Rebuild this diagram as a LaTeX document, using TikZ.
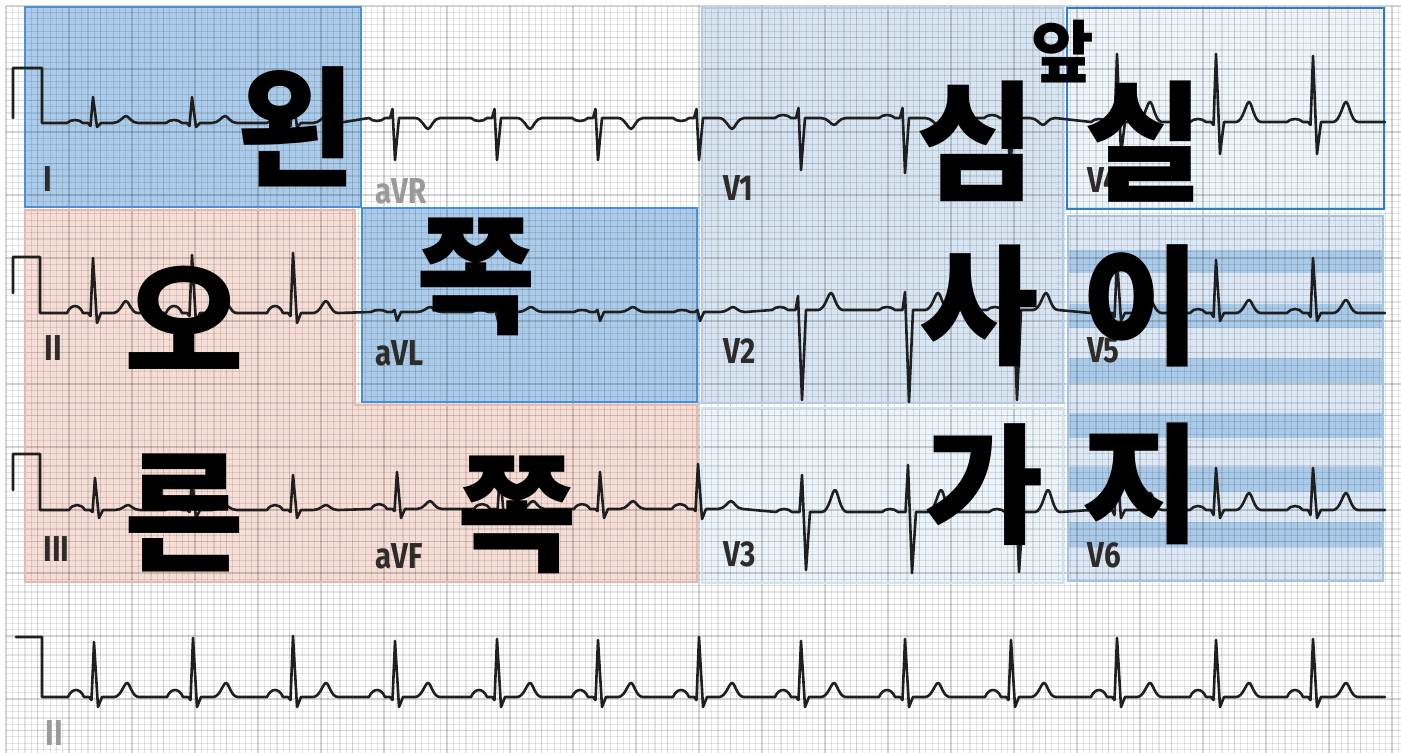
\documentclass[tikz,border=0pt]{standalone}
\usepackage{fontspec}
\newfontfamily\krfont{Noto Sans CJK KR}
\newfontfamily\labfont[FakeStretch=0.82]{Fira Sans}
\definecolor{blueA}{HTML}{ABCBEA}
\definecolor{blueAb}{HTML}{4A90D4}
\definecolor{pinkA}{HTML}{F6DDD5}
\definecolor{pinkAb}{HTML}{EBB6AB}
\definecolor{blueB}{HTML}{D7E4F2}
\definecolor{blueBb}{HTML}{B3CBE8}
\definecolor{blueC}{HTML}{EBF4FB}
\definecolor{blueCb}{HTML}{CFE2F0}
\definecolor{blueD}{HTML}{EDF4FB}
\definecolor{blueDb}{HTML}{2E7DD0}
\definecolor{blueE}{HTML}{DCE8F5}
\definecolor{blueEs}{HTML}{AACAE9}
\definecolor{blueEb}{HTML}{A3C3E5}
\definecolor{labc}{HTML}{2E2C2A}
\definecolor{labgray}{HTML}{9A9A9A}
\newcommand\ecgbeat[7]{%
 -- ({#1-26},{#2}) .. controls ({#1-22},{#2-1.33*(#3)}) and ({#1-14},{#2-1.33*(#3)}) .. ({#1-10},{#2})
 -- ({#1-5},{#2}) -- ({#1-2.5},{#2+(#4)}) -- ({#1},{#2-(#5)}) -- ({#1+4},{#2+(#6)}) -- ({#1+8},{#2})
 -- ({#1+20},{#2}) .. controls ({#1+27},{#2}) and ({#1+30},{#2-(#7)}) .. ({#1+33},{#2-(#7)})
 .. controls ({#1+36},{#2-(#7)}) and ({#1+38},{#2}) .. ({#1+45},{#2})
}
\tikzset{
 ecg/.style={line width=1.3pt, draw=black!88, line join=round, line cap=round},
 gridminor/.style={line width=0.6pt, draw=black, draw opacity=0.1},
 gridmajor/.style={line width=0.7pt, draw=black, draw opacity=0.07},
 lead/.style={font=\labfont\bfseries\fontsize{18}{18}\selectfont, text=labc, anchor=west, inner sep=0pt},
 big/.style={font=\krfont\bfseries\fontsize{65}{65}\selectfont, inner sep=0pt, anchor=center},
 small/.style={font=\krfont\bfseries\fontsize{34}{34}\selectfont, inner sep=0pt, anchor=center},
}
\begin{document}
\begin{tikzpicture}[x=0.5pt,y=-0.5pt]
\useasboundingbox (0,0) rectangle (1401,753);
\fill[white] (0,0) rectangle (1401,753);
% region fills
\fill[blueA] (25,7) rectangle (361,207);
\fill[pinkA] (25,210) -- (355,210) -- (355,405) -- (697,405) -- (697,582) -- (25,582) -- cycle;
\fill[blueA] (362,208) rectangle (697,402);
\fill[blueB] (702,8) rectangle (1063,403);
\fill[blueC] (702,408) rectangle (1063,583);
\fill[blueD] (1067,8) rectangle (1384,209);
\fill[blueE] (1068,216) rectangle (1383,581);
\foreach \a/\b in {250/273,304/328,358/383,413/438,467/492,522/547}
  {\fill[blueEs] (1068,\a) rectangle (1383,\b);}
% grid
\foreach \i in {0,...,221} {\draw[gridminor] ({6+6.3*\i},6) -- ({6+6.3*\i},753);}
\foreach \j in {0,...,118} {\draw[gridminor] (6,{6+6.3*\j}) -- (1401,{6+6.3*\j});}
\foreach \i in {0,...,44} {\draw[gridmajor] ({6+31.5*\i},6) -- ({6+31.5*\i},753);}
\foreach \j in {0,...,23} {\draw[gridmajor] (6,{6+31.5*\j}) -- (1401,{6+31.5*\j});}
% region borders
\draw[blueAb, line width=1pt] (25,7) rectangle (361,207);
\draw[pinkAb, line width=0.8pt] (25,210) -- (355,210) -- (355,405) -- (697,405) -- (697,582) -- (25,582) -- cycle;
\draw[blueAb, line width=1pt] (362,208) rectangle (697,402);
\draw[blueBb, line width=0.8pt] (702,8) rectangle (1063,403);
\draw[blueCb, line width=0.8pt] (702,408) rectangle (1063,583);
\draw[blueDb, line width=1pt] (1067,8) rectangle (1384,209);
\draw[blueEb, line width=0.8pt] (1068,216) rectangle (1383,581);
% row 1: I, aVR, V1, V4
\draw[ecg] (13,118) -- (13,68) -- (42,68) -- (42,123)
 \ecgbeat{93}{123}{3}{3}{26}{4}{7}
 \ecgbeat{192}{123}{3}{3}{26}{4}{7}
 \ecgbeat{293}{123}{3}{3}{26}{4}{7}
 \ecgbeat{395}{118}{-3}{-9}{-42}{0}{-11}
 \ecgbeat{497}{118}{-3}{-9}{-42}{0}{-11}
 \ecgbeat{598}{118}{-3}{-9}{-42}{0}{-11}
 \ecgbeat{699}{118}{-3}{-9}{-42}{0}{-11}
 \ecgbeat{801}{118}{3}{-10}{-52}{0}{-7}
 \ecgbeat{905}{118}{3}{-10}{-55}{0}{-7}
 \ecgbeat{1010}{118}{3}{-10}{-52}{0}{-7}
 \ecgbeat{1117}{122}{3}{3}{68}{32}{20}
 \ecgbeat{1216}{122}{3}{3}{68}{32}{20}
 \ecgbeat{1313}{122}{3}{3}{66}{32}{20}
 -- (1385,122);
% row 2: II, aVL, V2, V5
\draw[ecg] (13,293) -- (13,257) -- (40,257) -- (40,313)
 \ecgbeat{93}{313}{7}{3}{55}{10}{12}
 \ecgbeat{192}{313}{7}{3}{58}{10}{12}
 \ecgbeat{293}{313}{7}{3}{60}{10}{12}
 \ecgbeat{397}{312}{2}{-2}{-9}{0}{5}
 \ecgbeat{498}{312}{2}{-2}{-9}{0}{5}
 \ecgbeat{600}{312}{2}{-2}{-9}{0}{5}
 \ecgbeat{700}{312}{2}{-2}{-9}{0}{5}
 \ecgbeat{798}{310}{3}{0}{14}{90}{17}
 \ecgbeat{905}{310}{3}{0}{18}{92}{17}
 \ecgbeat{1013}{310}{3}{0}{16}{90}{17}
 \ecgbeat{1117}{313}{4}{4}{53}{8}{13}
 \ecgbeat{1216}{313}{4}{4}{53}{8}{13}
 \ecgbeat{1313}{313}{4}{4}{55}{8}{13}
 -- (1385,313);
% row 3: III, aVF, V3, V6
\draw[ecg] (13,490) -- (13,454) -- (40,454) -- (40,510)
 \ecgbeat{95}{510}{5}{2}{32}{8}{5}
 \ecgbeat{192}{510}{5}{2}{32}{8}{5}
 \ecgbeat{293}{510}{5}{2}{35}{8}{5}
 \ecgbeat{397}{509}{5}{2}{37}{9}{8}
 \ecgbeat{500}{509}{5}{2}{37}{9}{8}
 \ecgbeat{600}{509}{5}{2}{37}{9}{8}
 \ecgbeat{698}{509}{5}{2}{45}{10}{8}
 \ecgbeat{802}{512}{3}{0}{37}{58}{22}
 \ecgbeat{908}{512}{3}{0}{47}{61}{22}
 \ecgbeat{1015}{512}{3}{0}{42}{60}{22}
 \ecgbeat{1117}{510}{4}{5}{42}{8}{17}
 \ecgbeat{1216}{510}{4}{5}{42}{8}{17}
 \ecgbeat{1313}{510}{4}{5}{42}{8}{17}
 -- (1385,510);
% row 4: rhythm II
\draw[ecg] (16,637) -- (42,637) -- (42,697)
 \ecgbeat{94}{697}{7}{3}{55}{10}{14}
 \ecgbeat{193}{697}{7}{3}{59}{10}{14}
 \ecgbeat{293}{697}{7}{3}{61}{10}{14}
 \ecgbeat{395}{697}{7}{3}{56}{10}{14}
 \ecgbeat{497}{697}{7}{3}{58}{10}{14}
 \ecgbeat{598}{697}{7}{3}{57}{10}{14}
 \ecgbeat{699}{697}{7}{3}{60}{10}{14}
 \ecgbeat{801}{697}{7}{3}{56}{10}{14}
 \ecgbeat{905}{697}{7}{3}{58}{10}{14}
 \ecgbeat{1011}{697}{7}{3}{57}{10}{14}
 \ecgbeat{1117}{697}{7}{3}{59}{10}{14}
 \ecgbeat{1216}{697}{7}{3}{57}{10}{14}
 \ecgbeat{1313}{697}{7}{3}{58}{10}{14}
 -- (1385,697);
% lead labels
\node[lead] (lI) at (43,179) {I};
\node[lead, text=labgray] (laVR) at (375,191) {aVR};
\node[lead] (lV1) at (723,188) {V1};
\node[lead] (lV4) at (1087,180) {V4};
\node[lead] (lII) at (44,348) {II};
\node[lead] (laVL) at (375,353) {aVL};
\node[lead] (lV2) at (723,351) {V2};
\node[lead] (lV5) at (1087,350) {V5};
\node[lead] (lIII) at (43,549) {III};
\node[lead] (laVF) at (375,556) {aVF};
\node[lead] (lV3) at (723,554) {V3};
\node[lead] (lV6) at (1087,555) {V6};
\node[lead, text=labgray] (lIIr) at (45,733) {II};
% big Korean text
\node[big] (w1) at (296,127) {왼};
\node[big] (j1) at (476,277) {쪽};
\node[big] (o1) at (184,318) {오};
\node[big] (r1) at (184,513) {른};
\node[big] (j2) at (517,515) {쪽};
\node[big] (s1) at (976,141) {심};
\node[small] (a1) at (1063,52) {앞};
\node[big] (s2) at (1144,142) {실};
\node[big] (s3) at (979,306) {사};
\node[big] (i1) at (1141,306) {이};
\node[big] (g1) at (984,485) {가};
\node[big] (z1) at (1141,484) {지};
\end{tikzpicture}
\end{document}
